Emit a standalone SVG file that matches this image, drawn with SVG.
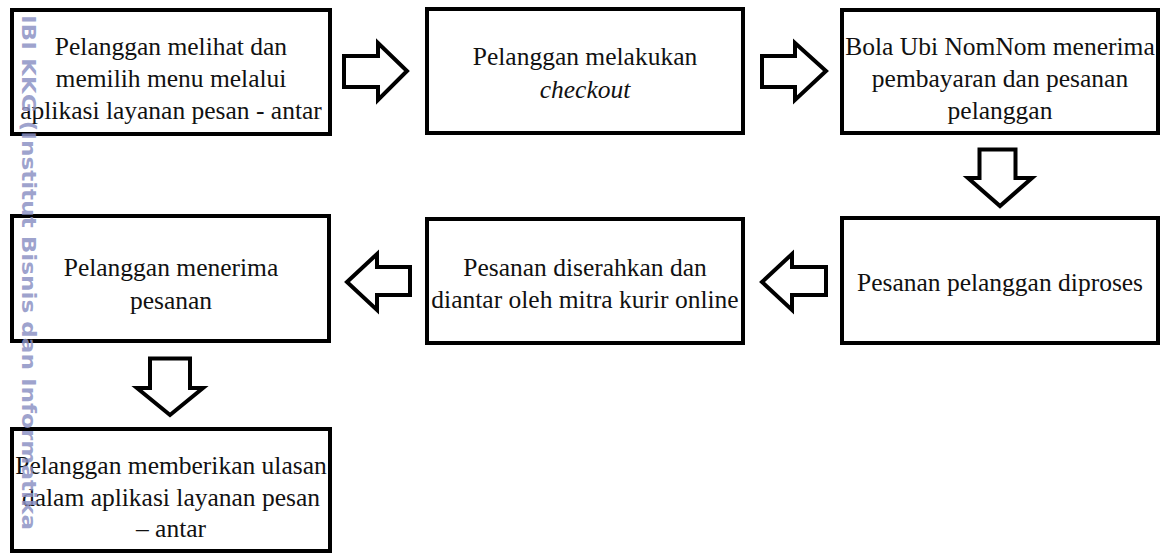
<svg xmlns="http://www.w3.org/2000/svg" width="1163" height="555" viewBox="0 0 1163 555">
  <style>
    .box { fill: #ffffff; stroke: #000000; stroke-width: 4; }
    .arrow { fill: #ffffff; stroke: #000000; stroke-width: 4; stroke-linejoin: miter; stroke-miterlimit: 10; }
    .t { font-family: 'Liberation Serif', 'Times New Roman', Tinos, 'DejaVu Serif', serif; font-size: 25.5px; fill: #111111; text-anchor: middle; }
    .it { font-style: italic; }
    .wm { font-family: 'DejaVu Sans', 'Liberation Sans', sans-serif; font-weight: bold; font-size: 19px; fill: #8d92c4; fill-opacity: 0.85; }
  </style>
  <rect width="1163" height="555" fill="#ffffff"/>

  <g id="connectors">
    <polygon class="arrow" points="344,56 378,56 378,43 407,71 378,100 378,87 344,87"/>
    <polygon class="arrow" points="762,56 795,56 795,43 826,71 795,100 795,87 762,87"/>
    <polygon class="arrow" points="979.5,149.5 1015.5,149.5 1015.5,178 1032,178 1000,206 968,178 979.5,178"/>
    <polygon class="arrow" points="762,282 792,254 792,267 826,267 826,295 792,295 792,310"/>
    <polygon class="arrow" points="347,282 377,254 377,267 410,267 410,295 377,295 377,310"/>
    <polygon class="arrow" points="150,358.5 190,358.5 190,388 203,388 170,415 137,388 150,388"/>
  </g>

  <g id="node1">
    <rect class="box" x="12" y="10" width="318" height="124"/>
    <text class="t" x="171" y="55">Pelanggan melihat dan</text>
    <text class="t" x="171" y="87">memilih menu melalui</text>
    <text class="t" x="171" y="119">aplikasi layanan pesan - antar</text>
  </g>

  <g id="node2">
    <rect class="box" x="427" y="9" width="316" height="124"/>
    <text class="t" x="585" y="65">Pelanggan melakukan</text>
    <text class="t it" x="585" y="98">checkout</text>
  </g>

  <g id="node3">
    <rect class="box" x="842" y="10" width="316" height="123"/>
    <text class="t" x="1000" y="55">Bola Ubi NomNom menerima</text>
    <text class="t" x="1000" y="87">pembayaran dan pesanan</text>
    <text class="t" x="1000" y="119">pelanggan</text>
  </g>

  <g id="node4">
    <rect class="box" x="842" y="218" width="316" height="125"/>
    <text class="t" x="1000" y="291">Pesanan pelanggan diproses</text>
  </g>

  <g id="node5">
    <rect class="box" x="427" y="219" width="316" height="124"/>
    <text class="t" x="585" y="276">Pesanan diserahkan dan</text>
    <text class="t" x="585" y="308">diantar oleh mitra kurir online</text>
  </g>

  <g id="node6">
    <rect class="box" x="12" y="216" width="317" height="125"/>
    <text class="t" x="171" y="276">Pelanggan menerima</text>
    <text class="t" x="171" y="309">pesanan</text>
  </g>

  <g id="node7">
    <rect class="box" x="12" y="429" width="318" height="122"/>
    <text class="t" x="171" y="474">Pelanggan memberikan ulasan</text>
    <text class="t" x="171" y="506">dalam aplikasi layanan pesan</text>
    <text class="t" x="171" y="537">– antar</text>
  </g>

  <g id="watermark">
    <text class="wm" transform="translate(21.5,15) rotate(90)" x="0" y="0" textLength="515" lengthAdjust="spacingAndGlyphs">IBI KKG (Institut Bisnis dan Informatika</text>
  </g>
</svg>
